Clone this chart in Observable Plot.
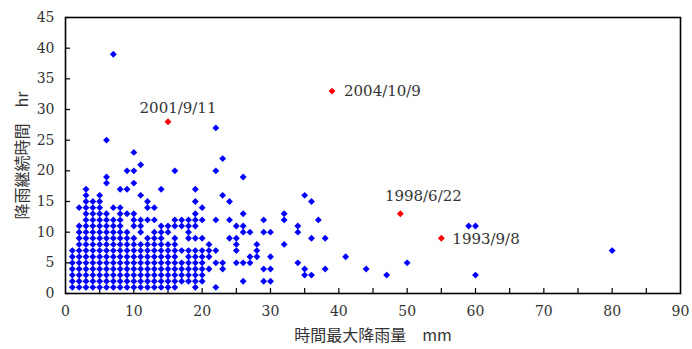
<!DOCTYPE html>
<html>
<head>
<meta charset="utf-8">
<script src="https://cdn.jsdelivr.net/npm/d3@7"></script>
<script src="https://cdn.jsdelivr.net/npm/@observablehq/plot@0.6"></script>
<style>
  html, body { margin: 0; padding: 0; background: #fff; }
</style>
</head>
<body>
<div id="chart"></div>
<script>
// Blue points: [時間最大降雨量 mm, 降雨継続時間 hr]
const bluePoints = [
  [1,1],[1,2],[1,3],[1,4],[1,5],[1,6],[1,7],
  [2,1],[2,2],[2,3],[2,4],[2,5],[2,6],[2,7],[2,8],[2,9],[2,10],[2,11],[2,14],
  [3,1],[3,2],[3,3],[3,4],[3,5],[3,6],[3,7],[3,8],[3,9],[3,10],[3,11],[3,12],[3,13],[3,14],[3,15],[3,16],[3,17],
  [4,1],[4,2],[4,3],[4,4],[4,5],[4,6],[4,7],[4,8],[4,9],[4,10],[4,11],[4,12],[4,13],[4,14],[4,15],
  [5,1],[5,2],[5,3],[5,4],[5,5],[5,6],[5,7],[5,8],[5,9],[5,10],[5,11],[5,12],[5,13],[5,14],[5,15],[5,16],
  [6,1],[6,2],[6,3],[6,4],[6,5],[6,6],[6,7],[6,8],[6,9],[6,10],[6,11],[6,12],[6,13],[6,18],[6,19],[6,25],
  [7,1],[7,2],[7,3],[7,4],[7,5],[7,6],[7,7],[7,8],[7,9],[7,10],[7,11],[7,12],[7,14],[7,39],
  [8,1],[8,2],[8,3],[8,4],[8,5],[8,6],[8,7],[8,8],[8,9],[8,10],[8,11],[8,12],[8,13],[8,14],[8,17],
  [9,1],[9,2],[9,3],[9,4],[9,5],[9,6],[9,7],[9,8],[9,9],[9,10],[9,13],[9,17],[9,20],
  [10,1],[10,2],[10,3],[10,4],[10,5],[10,6],[10,7],[10,8],[10,9],[10,11],[10,12],[10,13],[10,18],[10,20],[10,23],
  [11,1],[11,2],[11,3],[11,4],[11,5],[11,6],[11,7],[11,8],[11,10],[11,11],[11,12],[11,16],[11,21],
  [12,1],[12,2],[12,3],[12,4],[12,5],[12,6],[12,7],[12,8],[12,9],[12,12],[12,14],[12,15],
  [13,1],[13,2],[13,3],[13,4],[13,5],[13,6],[13,7],[13,8],[13,9],[13,10],[13,12],[13,14],
  [14,1],[14,2],[14,3],[14,4],[14,5],[14,6],[14,7],[14,8],[14,9],[14,10],[14,11],[14,17],
  [15,1],[15,2],[15,3],[15,4],[15,5],[15,6],[15,7],[15,8],[15,10],[15,11],
  [16,1],[16,2],[16,3],[16,4],[16,5],[16,6],[16,7],[16,8],[16,9],[16,11],[16,12],[16,20],
  [17,2],[17,3],[17,4],[17,5],[17,7],[17,11],[17,12],
  [18,2],[18,3],[18,4],[18,5],[18,6],[18,7],[18,9],[18,10],[18,11],[18,12],
  [19,1],[19,2],[19,3],[19,4],[19,5],[19,6],[19,7],[19,9],[19,11],[19,12],[19,13],[19,15],[19,17],
  [20,2],[20,3],[20,4],[20,5],[20,6],[20,7],[20,9],[20,12],[20,14],
  [21,4],[21,6],[21,7],[21,8],
  [22,1],[22,5],[22,7],[22,12],[22,20],[22,27],
  [23,4],[23,5],[23,16],[23,22],
  [24,9],[24,12],[24,15],
  [25,5],[25,7],[25,8],[25,9],[25,11],
  [26,2],[26,5],[26,10],[26,11],[26,13],[26,19],
  [27,5],[27,6],[27,10],
  [28,6],[28,7],[28,8],
  [29,2],[29,4],[29,10],[29,12],
  [30,2],[30,4],[30,6],[30,10],
  [32,8],[32,12],[32,13],
  [34,5],[34,10],[34,11],
  [35,3],[35,4],[35,16],
  [36,3],[36,9],[36,15],
  [37,12],
  [38,4],[38,9],
  [41,6],[44,4],[47,3],[50,5],
  [59,11],[60,3],[60,11],
  [80,7]
];

// Highlighted events
const eventLabels = ["2001/9/11", "2004/10/9", "1998/6/22", "1993/9/8"];
const eventRain   = [15, 39, 49, 55];
const eventHours  = [28, 33, 13, 9];

const xTickLabels = [0, 10, 20, 30, 40, 50, 60, 70, 80, 90];
const xTickMarks  = [5, 10, 15, 20, 25, 30, 35, 40, 45, 50, 55, 60, 65, 70, 75, 80, 85];
const yTickLabels = [0, 5, 10, 15, 20, 25, 30, 35, 40, 45];

const xTitle = "時間最大降雨量　mm";
const yTitle = "降雨継続時間　hr";

const blue = bluePoints.map(([x, y]) => ({x, y}));
const events = eventLabels.map((label, i) => ({label, x: eventRain[i], y: eventHours[i]}));

const W = 692, H = 349;
const mL = 65, mR = 12, mT = 17, mB = 56;
const innerW = W - mL - mR, innerH = H - mT - mB;

const labelMark = (name, opts) =>
  Plot.text(events.filter(d => d.label === name), {
    x: "x", y: "y", text: "label",
    fontFamily: "DejaVu Serif", fontSize: 15, fill: "#333", ...opts
  });

const chart = Plot.plot({
  width: W, height: H,
  marginLeft: mL, marginRight: mR, marginTop: mT, marginBottom: mB,
  style: {background: "#fff", color: "#333", fontSize: "14px"},
  x: {domain: [0, 90]},
  y: {domain: [0, 45]},
  marks: [
    Plot.axisX(xTickLabels, {tickSize: 0, tickPadding: 13, label: null, fontSize: 14, fontFamily: "DejaVu Serif", fill: "#333"}),
    Plot.axisY(yTickLabels, {tickSize: 0, tickPadding: 11, label: null, fontSize: 14, fontFamily: "DejaVu Serif", fill: "#333"}),
    Plot.tickX(xTickMarks, {x: d => d, insetTop: innerH - 5, stroke: "#000", strokeWidth: 1.2}),
    Plot.tickY(yTickLabels, {y: d => d, insetRight: innerW - 5, stroke: "#000", strokeWidth: 1.2}),
    Plot.frame({stroke: "#000", strokeWidth: 1.6}),
    Plot.dot(blue, {x: "x", y: "y", symbol: "diamond2", r: 3.1, fill: "#0000ff", stroke: "none"}),
    Plot.dot(events, {x: "x", y: "y", symbol: "diamond2", r: 3.1, fill: "#ff0000", stroke: "none"}),
    labelMark("2001/9/11", {textAnchor: "middle", dx: 10, dy: -14}),
    labelMark("2004/10/9", {textAnchor: "start", dx: 12, dy: 0}),
    labelMark("1998/6/22", {textAnchor: "middle", dx: 23, dy: -18}),
    labelMark("1993/9/8", {textAnchor: "start", dx: 11, dy: 1}),
    Plot.text([xTitle], {text: d => d, frameAnchor: "bottom", textAnchor: "middle", dy: 47, fontSize: 16, fontFamily: "Noto Sans CJK JP", fill: "#333"}),
    Plot.text([yTitle], {text: d => d, frameAnchor: "left", textAnchor: "middle", dx: -43, rotate: -90, fontSize: 16, fontFamily: "Noto Sans CJK JP", fill: "#333"})
  ]
});

document.getElementById("chart").appendChild(chart);
</script>
</body>
</html>
